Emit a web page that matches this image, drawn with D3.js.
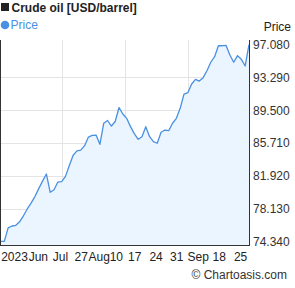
<!DOCTYPE html>
<html><head><meta charset="utf-8">
<script src="https://cdn.jsdelivr.net/npm/d3@7"></script>
<style>body{margin:0;background:#fff}svg{display:block;font-family:"Liberation Sans",Arial,sans-serif}</style>
</head><body><svg id="c" width="295" height="288"></svg>
<script>
const title = "Crude oil [USD/barrel]";
const seriesName = "Price";
const prices = [74.34,74.34,75.9,76.12,76.2,76.6,77.3,78.09,78.77,79.52,80.44,81.3,82.13,
80.01,80.3,81.2,81.24,81.85,83.1,84.3,84.8,84.88,85.4,86.4,86.58,86.63,85.56,87.99,88.31,87.67,88.19,
89.81,89.06,88.56,87.6,86.8,86.14,86.44,87.59,86.44,85.86,85.68,86.95,87.21,87.13,87.99,88.56,89.72,
91.37,91.52,92.53,93.07,92.87,93.26,94.06,95.04,95.68,96.95,96.95,96.98,95.88,95.04,95.8,95.38,94.61,97.08];
const yTicks = [74.34,78.13,81.92,85.71,89.5,93.29,97.08];
const xTickLabels = ["2023","Jun","Jul","27","Aug","10","17","24","31","Sep","18","25"];
const xTickPos = [3.66,9.9,15.7,21.1,25.8,30.3,35.1,40.7,46.1,51.7,57.2,62.8];
const xGrid = [16.2,32.6,49.1];

(function () {
const svg = d3.select("#c");
const pLeft = 0.5, pRight = 249, pTop = 40, pBottom = 245.5;
const x = d3.scaleLinear().domain([0, prices.length - 1]).range([pLeft, pRight]);
const y = d3.scaleLinear().domain([74.34, 97.08]).range([241.4, 44.6]);

svg.append("g").selectAll("line").data(yTicks.slice(1, -1)).join("line")
  .attr("x1", pLeft).attr("x2", pRight).attr("y1", d => Math.round(y(d)) + 0.5).attr("y2", d => Math.round(y(d)) + 0.5)
  .attr("stroke", "#e4e4e4").attr("stroke-width", 1);
svg.append("g").selectAll("line").data(xGrid).join("line")
  .attr("x1", d => Math.round(x(d)) + 0.5).attr("x2", d => Math.round(x(d)) + 0.5).attr("y1", pTop).attr("y2", pBottom)
  .attr("stroke", "#e4e4e4").attr("stroke-width", 1);

svg.append("path").datum(prices)
  .attr("d", d3.area().x((d, i) => x(i)).y0(pBottom).y1(d => y(d)))
  .attr("fill", "#eaf5ff");
svg.append("path").datum(prices)
  .attr("d", d3.line().x((d, i) => x(i)).y(d => y(d)))
  .attr("fill", "none").attr("stroke", "#4a90e2").attr("stroke-width", 1.3).attr("stroke-linejoin", "round");

svg.append("line").attr("x1", 0.5).attr("x2", 0.5).attr("y1", pTop).attr("y2", pBottom).attr("stroke", "#333");
svg.append("line").attr("x1", 249.5).attr("x2", 249.5).attr("y1", pTop).attr("y2", pBottom + 0.5).attr("stroke", "#333");
svg.append("line").attr("x1", 0).attr("x2", 250).attr("y1", pBottom).attr("y2", pBottom).attr("stroke", "#333");

svg.append("g").selectAll("text").data(yTicks).join("text")
  .attr("x", 253).attr("y", d => y(d) + 4.3).attr("font-size", 12).attr("fill", "#333")
  .text(d => d3.format(".3f")(d));
svg.append("text").attr("x", 291).attr("y", 31).attr("text-anchor", "end").attr("font-size", 12).attr("fill", "#222").text(seriesName);

svg.append("g").selectAll("text").data(xTickLabels).join("text")
  .attr("x", (d, i) => x(xTickPos[i])).attr("y", 261).attr("text-anchor", "middle")
  .attr("font-size", 12).attr("fill", "#222").text(d => d);

svg.append("rect").attr("x", 1).attr("y", 3).attr("width", 8).attr("height", 8).attr("fill", "#222");
svg.append("text").attr("x", 11.5).attr("y", 12).attr("font-size", 12).attr("font-weight", "bold").attr("fill", "#222").text(title);
svg.append("circle").attr("cx", 5).attr("cy", 25).attr("r", 4.3).attr("fill", "#4a90e2");
svg.append("text").attr("x", 10.5).attr("y", 29.3).attr("font-size", 12).attr("fill", "#4a90e2").text(seriesName);

svg.append("text").attr("x", 287).attr("y", 279).attr("text-anchor", "end").attr("font-size", 12).attr("fill", "#333").text("© Chartoasis.com");
})();
</script></body></html>
